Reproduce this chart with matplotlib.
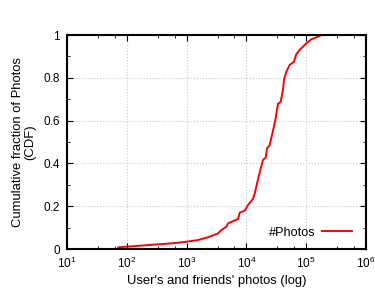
import matplotlib
matplotlib.use("Agg")
import matplotlib.pyplot as plt
from matplotlib.ticker import LogLocator, MultipleLocator, LogFormatterMathtext

plt.rcParams["font.family"] = ["Liberation Sans", "DejaVu Sans"]
plt.rcParams["mathtext.fontset"] = "custom"
plt.rcParams["mathtext.rm"] = "Liberation Sans"
plt.rcParams["mathtext.it"] = "Liberation Sans"

# photos per user (log x) and cumulative fraction
photos = [72, 596, 995, 1555, 2285, 3360, 3830, 4640, 4930, 7245, 7730, 9370,
          10650, 11350, 12900, 13800, 15300, 17100, 18900, 21000, 22100, 24500,
          26800, 30500, 33700, 37400, 40900, 42500, 46600, 52900, 62400, 68400,
          77600, 100500, 121600, 167500]
cdf = [0.008, 0.027, 0.034, 0.042, 0.055, 0.073, 0.089, 0.104, 0.12, 0.14,
       0.17, 0.179, 0.206, 0.215, 0.235, 0.26, 0.315, 0.369, 0.416, 0.427,
       0.47, 0.486, 0.533, 0.603, 0.678, 0.688, 0.743, 0.79, 0.829, 0.86,
       0.875, 0.911, 0.93, 0.961, 0.98, 0.995]

fig = plt.figure(figsize=(3.75, 2.91), dpi=100)
ax = fig.add_axes([0.1787, 0.1443, 0.7973, 0.7354])

ax.plot(photos, cdf, color="#ff0000", lw=1.4, label="#Photos")

ax.set_xscale("log")
ax.set_xlim(10, 1e6)
ax.set_ylim(0, 1)
ax.xaxis.set_major_locator(LogLocator(base=10, numticks=10))
ax.xaxis.set_minor_locator(LogLocator(base=10, subs=(3.3, 6.3), numticks=10))
ax.xaxis.set_major_formatter(LogFormatterMathtext())
ax.yaxis.set_major_locator(MultipleLocator(0.2))
ax.yaxis.set_minor_locator(MultipleLocator(0.1))
ax.set_yticks([0, 0.2, 0.4, 0.6, 0.8, 1.0])
ax.set_yticklabels(["0", "0.2", "0.4", "0.6", "0.8", "1"])

ax.tick_params(which="both", direction="in", top=True, right=True,
               labelsize=8.5, pad=5)
ax.tick_params(which="major", length=4, width=0.8)
ax.tick_params(which="minor", length=2, width=0.6)
for s in ax.spines.values():
    s.set_linewidth(1.5)

ax.grid(True, which="major", color="#c8c8c8", ls=":", lw=0.8)

ax.set_xlabel("User's and friends' photos (log)", fontsize=9.4, labelpad=3)
ax.set_ylabel("Cumulative fraction of Photos\n(CDF)", fontsize=9.4,
              labelpad=5, linespacing=1.05)

ax.legend(loc="lower right", bbox_to_anchor=(0.99, -0.005), frameon=False,
          markerfirst=False, fontsize=9.2, handlelength=2.3, handletextpad=0.5)

fig.savefig("out.png", dpi=100)
